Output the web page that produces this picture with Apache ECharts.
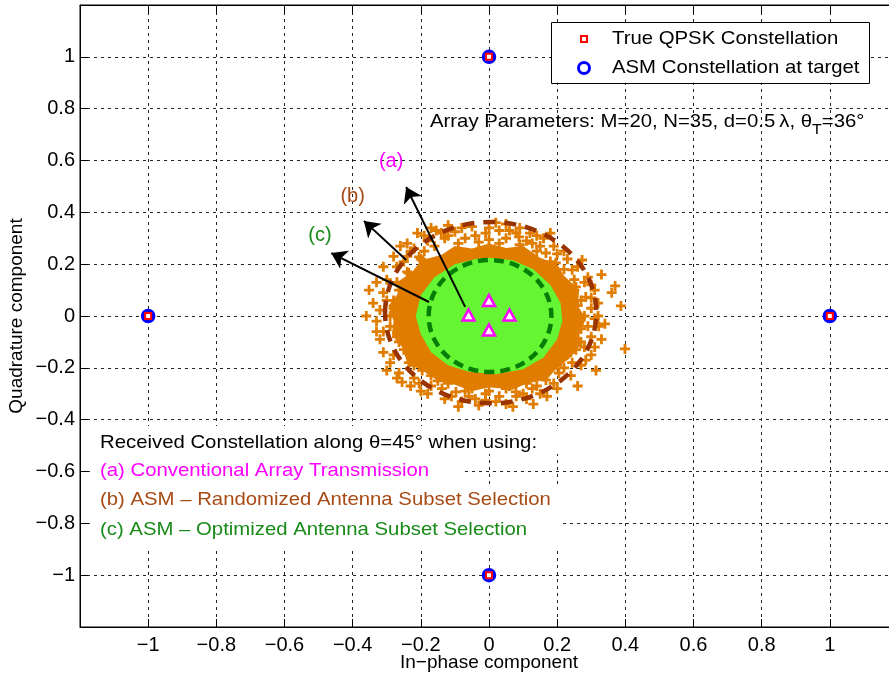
<!DOCTYPE html>
<html>
<head>
<meta charset="utf-8">
<script src="https://cdn.jsdelivr.net/npm/echarts@6/dist/echarts.min.js"></script>
<style>
  html,body{margin:0;padding:0;background:#fff;}
  #chart{width:889px;height:681px;}
</style>
</head>
<body>
<div id="chart"></div>
<script>
// ideal QPSK points and the constellation seen at the target (same places)
var trueQpsk = [[1, 0], [0, 1], [-1, 0], [0, -1]];
var asmTarget = [[1, 0], [0, 1], [-1, 0], [0, -1]];

// (a) conventional array, along theta=45
var convArray = [[-0.06, 0.004], [0, 0.06], [0.06, 0.004], [0, -0.054]];

// (b) randomized subset: dense part of the cloud (outline) + loose points at its edge
var randMass = [[0, 0.28], [0.05, 0.262], [0.1, 0.27], [0.15, 0.225], [0.2, 0.2], [0.22, 0.155], [0.265, 0.1],
  [0.26, 0.04], [0.285, -0.01], [0.265, -0.07], [0.27, -0.11], [0.235, -0.165], [0.2, -0.2], [0.17, -0.245],
  [0.11, -0.26], [0.07, -0.285], [0, -0.275], [-0.05, -0.29], [-0.1, -0.265], [-0.15, -0.25], [-0.19, -0.215],
  [-0.24, -0.18], [-0.255, -0.12], [-0.285, -0.07], [-0.28, -0.02], [-0.295, 0.04], [-0.265, 0.09],
  [-0.27, 0.13], [-0.225, 0.17], [-0.2, 0.215], [-0.14, 0.235], [-0.1, 0.27], [-0.05, 0.26]];
var randPoints = [
  [-0.21, 0.32], [-0.155, 0.33], [-0.10, 0.325], [-0.05, 0.345], [-0.01, 0.32], [0.03, 0.33], [0.06, 0.33],
  [0.088, 0.305], [0.127, 0.28], [0.167, 0.243], [0.196, 0.205], [-0.18, 0.29], [-0.13, 0.30], [-0.07, 0.30],
  [0.0, 0.295], [0.05, 0.30], [0.11, 0.29], [0.15, 0.27], [-0.22, 0.26], [-0.24, 0.23], [-0.19, 0.25],
  [0.2, 0.24], [0.23, 0.22], [0.16, 0.3], [0.12, 0.32], [-0.12, 0.35], [0.02, 0.36],
  [-0.16, 0.27], [-0.09, 0.28], [-0.03, 0.285], [0.03, 0.28], [0.09, 0.275], [0.14, 0.25], [-0.2, 0.22],
  [0.18, 0.21], [-0.12, 0.31], [0.08, 0.32], [-0.04, 0.31],
  [-0.14, 0.32], [-0.19, 0.31], [-0.24, 0.28], [-0.08, 0.34], [0.0, 0.34], [0.09, 0.34], [0.14, 0.31],
  [0.19, 0.27], [0.22, 0.25], [-0.26, 0.27], [-0.17, 0.34], [0.05, 0.355], [0.18, 0.32],
  [0.244, 0.178], [0.273, 0.216], [0.255, 0.112], [0.284, 0.073], [0.29, 0.15], [0.30, 0.03], [0.31, -0.01],
  [0.322, -0.04], [0.30, -0.08], [0.28, -0.12], [0.26, 0.04], [0.27, -0.05], [0.31, 0.1], [0.25, 0.14],
  [0.22, 0.18], [0.25, 0.1], [0.27, 0.06], [0.28, 0.0], [0.29, -0.04], [0.27, -0.1], [0.24, -0.14],
  [0.3, 0.12], [0.32, 0.05], [0.33, -0.09], [0.3, -0.15],
  [0.26, 0.19], [0.28, 0.13], [0.3, 0.07], [0.32, 0.0], [0.31, -0.12], [0.33, 0.16], [0.34, -0.03],
  [0.37, 0.116], [0.387, 0.039], [0.399, -0.127], [0.36, 0.09],
  [0.244, -0.18], [0.284, -0.17], [0.314, -0.21], [0.255, -0.13], [0.205, -0.22], [0.167, -0.247],
  [0.127, -0.28], [0.22, -0.2], [0.19, -0.26], [0.15, -0.3], [0.10, -0.3],
  [0.27, -0.19], [0.24, -0.23], [0.2, -0.28], [0.17, -0.31], [0.13, -0.34], [0.07, -0.35], [0.26, -0.27],
  [0.2, -0.19], [0.16, -0.22], [0.11, -0.26], [0.05, -0.28], [-0.01, -0.3], [-0.07, -0.29], [-0.12, -0.26],
  [-0.17, -0.23], [0.14, -0.27], [-0.11, -0.31], [0.08, -0.31],
  [0.079, -0.293], [0.03, -0.31], [-0.01, -0.325], [-0.059, -0.31], [-0.097, -0.293], [-0.138, -0.28],
  [0.05, -0.34], [-0.03, -0.345], [0.11, -0.32], [-0.08, -0.33], [0.0, -0.29], [0.06, -0.27], [-0.05, -0.28],
  [0.02, -0.33], [-0.04, -0.32], [-0.09, -0.35], [-0.13, -0.32], [-0.18, -0.3],
  [-0.196, -0.21], [-0.264, -0.22], [-0.255, -0.255], [-0.205, -0.26], [-0.17, -0.27], [-0.235, -0.18],
  [-0.264, -0.10], [-0.22, -0.24], [-0.15, -0.25], [-0.28, -0.15],
  [-0.23, -0.27], [-0.27, -0.24], [-0.3, -0.21], [-0.31, -0.14],
  [-0.22, -0.19], [-0.25, -0.13], [-0.27, -0.08], [-0.29, 0.0], [-0.28, 0.06], [-0.27, 0.13], [-0.24, 0.17],
  [-0.31, 0.09], [-0.32, -0.09], [-0.29, -0.18], [-0.2, -0.29],
  [-0.29, -0.04], [-0.32, 0.023], [-0.352, 0.10], [-0.264, 0.10], [-0.235, 0.166], [-0.205, 0.228],
  [-0.30, 0.06], [-0.31, -0.06], [-0.3, 0.14], [-0.27, 0.19], [-0.33, -0.02], [-0.28, 0.03], [-0.26, -0.05],
  [-0.33, -0.06], [-0.34, 0.05], [-0.33, 0.13], [-0.31, 0.19], [-0.28, 0.23], [-0.36, 0.0],
  [-0.25, 0.21], [-0.23, 0.25]
];

// (c) optimized subset: dense green disc outline
var optMass = [[0, 0.225], [0.07, 0.215], [0.13, 0.18], [0.18, 0.12], [0.21, 0.05], [0.215, -0.02], [0.2, -0.09],
  [0.16, -0.16], [0.1, -0.205], [0.02, -0.225], [-0.06, -0.215], [-0.12, -0.19], [-0.17, -0.14], [-0.2, -0.07],
  [-0.215, 0.0], [-0.2, 0.08], [-0.16, 0.15], [-0.1, 0.2], [-0.04, 0.22]];

// dashed bounds: [cx, cy, rx, ry]
var randBound = [[0.005, 0.013, 0.31, 0.35]];
var optBound = [[0.003, 0.0, 0.18, 0.216]];

// arrows [from, to] and their labels
var arrows = [
  [[-0.07, 0.035], [-0.243, 0.498]],
  [[-0.243, 0.216], [-0.367, 0.367]],
  [[-0.176, 0.054], [-0.463, 0.243]]
];
var arrowLabels = [[-0.287, 0.595, '(a)'], [-0.40, 0.463, '(b)'], [-0.496, 0.309, '(c)']];
var labelColors = ['#ff00ff', '#a84a14', '#178a17'];

var tickInterval = 0.2;

var FONT = 'Liberation Sans, Arial, sans-serif';
var TXT = '19px ' + FONT;
var SX = 1.07; // text in the picture is slightly wider than tall
var plusSymbol = 'path://M3.6,0H6.4V3.6H10V6.4H6.4V10H3.6V6.4H0V3.6H3.6Z';

function fmt(v) {
  var r = Math.round(v * 10) / 10;
  if (Math.abs(r) > 1.001) return '';
  if (r < 0) return '\u2212' + Math.abs(r);
  return String(r);
}

function polygonSeries(pts, color, z) {
  return {
    type: 'custom', data: pts, encode: {x: 0, y: 1}, z: z, silent: true,
    renderItem: function (params, api) {
      if (params.dataIndex !== 0) return;
      return {
        type: 'polygon',
        shape: {points: pts.map(function (p) { return api.coord(p); })},
        style: {fill: color}
      };
    }
  };
}

function ellipseSeries(data, color, dash, z) {
  return {
    type: 'custom', data: data, encode: {x: 0, y: 1}, z: z, silent: true,
    renderItem: function (params, api) {
      var c = api.coord([api.value(0), api.value(1)]);
      var s = api.size([api.value(2), api.value(3)]);
      return {
        type: 'ellipse',
        shape: {cx: c[0], cy: c[1], rx: s[0], ry: s[1]},
        style: {fill: null, stroke: color, lineWidth: 4.5, lineDash: dash}
      };
    }
  };
}

function note(x, y, text, color) {
  return {
    type: 'text', x: x, y: y, scaleX: SX, z: 101,
    style: {text: text, fill: color, font: TXT, verticalAlign: 'middle'}
  };
}

var axisCommon = {
  type: 'value', min: -1.2, max: 1.2, interval: tickInterval,
  axisLine: {show: true, onZero: false, lineStyle: {color: '#000', width: 1}},
  axisTick: {show: true, inside: true, length: 8, lineStyle: {color: '#000'}},
  axisLabel: {color: '#000', fontSize: 20, fontFamily: FONT, formatter: fmt, showMinLabel: true, showMaxLabel: true},
  splitLine: {show: true, lineStyle: {color: '#222', width: 1, type: [3, 4]}},
  nameMoveOverlap: false,
  nameTextStyle: {color: '#000', fontSize: 19, fontFamily: FONT}
};

var chart = echarts.init(document.getElementById('chart'), null, {renderer: 'canvas'});
chart.setOption({
  animation: false,
  backgroundColor: '#fff',
  grid: {
    left: 80, top: 5, width: 818, height: 622, outerBoundsMode: 'none', containLabel: false,
    show: true, borderColor: '#000', borderWidth: 1, backgroundColor: 'transparent'
  },
  xAxis: [
    Object.assign({}, axisCommon, {
      name: 'In\u2212phase component', nameLocation: 'middle', nameGap: 26,
      axisLabel: Object.assign({}, axisCommon.axisLabel, {margin: 8})
    }),
    Object.assign({}, axisCommon, {
      position: 'top', axisLabel: {show: false}, splitLine: {show: false}
    })
  ],
  yAxis: Object.assign({}, axisCommon, {
    name: 'Quadrature component', nameLocation: 'middle', nameGap: 54,
    axisLabel: Object.assign({}, axisCommon.axisLabel, {margin: 5})
  }),
  series: [
    polygonSeries(randMass, '#e07d00', 2),
    {
      type: 'scatter', data: randPoints, symbol: plusSymbol, symbolSize: 10, z: 3, silent: true,
      itemStyle: {color: '#e07d00', opacity: 1}
    },
    polygonSeries(optMass, '#66f533', 4),
    ellipseSeries(randBound, '#993300', [12, 9], 5),
    ellipseSeries(optBound, '#067d06', [10, 6], 5),
    {
      type: 'scatter', data: convArray, symbol: 'triangle', symbolSize: [12, 11], z: 6, silent: true,
      itemStyle: {color: '#fff', borderColor: '#ff00ff', borderWidth: 2.5, opacity: 1}
    },
    {
      type: 'lines', coordinateSystem: 'cartesian2d', z: 7, silent: true,
      data: arrows.map(function (a) { return {coords: a}; }),
      symbol: ['none', 'arrow'], symbolSize: 15,
      lineStyle: {color: '#000', width: 2, opacity: 1}
    },
    {
      type: 'scatter', z: 7, silent: true, symbolSize: 0,
      data: arrowLabels.map(function (l, i) {
        return {
          value: [l[0], l[1]], name: l[2],
          label: {color: labelColors[i]}
        };
      }),
      itemStyle: {opacity: 1, color: '#fff'},
      label: {
        show: true, position: 'inside', fontSize: 20, fontFamily: FONT,
        textBorderWidth: 0,
        formatter: function (p) { return p.name; }
      }
    },
    {
      name: 'ASM Constellation at target', type: 'scatter', data: asmTarget, symbol: 'circle', symbolSize: 11, z: 8,
      itemStyle: {color: '#fff', borderColor: '#0000ff', borderWidth: 3.5, opacity: 1}
    },
    {
      name: 'True QPSK Constellation', type: 'scatter', data: trueQpsk, symbol: 'rect', symbolSize: 6, z: 9,
      itemStyle: {color: '#fff', borderColor: '#ff0000', borderWidth: 2, opacity: 1}
    }
  ],
  graphic: [
    // legend box
    {type: 'rect', left: 551, top: 22, z: 100, shape: {width: 318, height: 61}, style: {fill: '#fff', stroke: '#000', lineWidth: 1}},
    {type: 'rect', x: 581, y: 36, z: 101, shape: {width: 6, height: 6}, style: {fill: '#fff', stroke: '#ff0000', lineWidth: 2}},
    {type: 'circle', x: 584, y: 68, z: 101, shape: {r: 5.5}, style: {fill: '#fff', stroke: '#0000ff', lineWidth: 3}},
    note(612, 39, 'True QPSK Constellation', '#000'),
    note(612, 68, 'ASM Constellation at target', '#000'),
    // array parameters note
    {
      type: 'text', x: 430, y: 122, z: 100, scaleX: SX,
      style: {
        text: '{n|Array Parameters: M=20, N=35, d=0.5\u2009\u03bb, \u03b8}{s|T}{n|=36\u00b0}',
        verticalAlign: 'middle',
        rich: {
          n: {fontSize: 19, fontFamily: FONT, fill: '#000'},
          s: {fontSize: 15, fontFamily: FONT, fill: '#000', padding: [15, 0, 0, 0]}
        }
      }
    },
    // caption box
    {type: 'rect', left: 93, top: 426, z: 100, shape: {width: 470, height: 28}, style: {fill: '#fff'}},
    {type: 'rect', left: 93, top: 454, z: 100, shape: {width: 370, height: 31}, style: {fill: '#fff'}},
    {type: 'rect', left: 93, top: 485, z: 100, shape: {width: 470, height: 63}, style: {fill: '#fff'}},
    note(100, 443, 'Received Constellation along \u03b8=45\u00b0 when using:', '#000'),
    note(100, 471, '(a) Conventional Array Transmission', '#ff00ff'),
    note(100, 500, '(b) ASM \u2013 Randomized Antenna Subset Selection', '#a84a14'),
    note(100, 530, '(c) ASM \u2013 Optimized Antenna Subset Selection', '#178a17')
  ]
});
</script>
</body>
</html>
